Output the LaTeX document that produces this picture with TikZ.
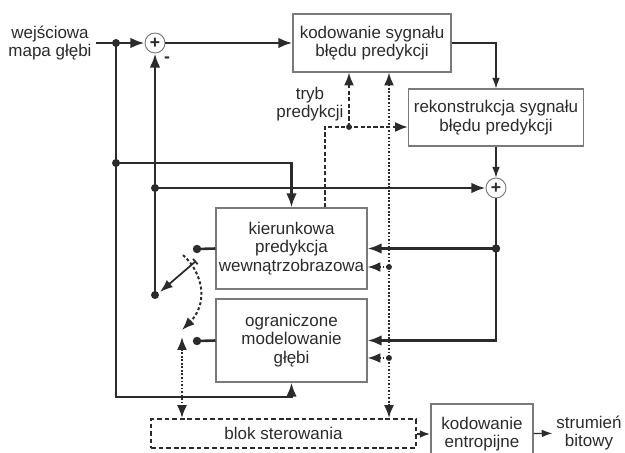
\documentclass[tikz,border=0pt]{standalone}
\usepackage{fontspec}
\setmainfont{Liberation Sans}
\usetikzlibrary{arrows.meta}
\definecolor{ink}{HTML}{2B2B2B}
\definecolor{frame}{HTML}{7A7A7A}
\tikzset{
  box/.style={draw=frame, line width=0.9pt, align=center, inner sep=0pt, text=ink},
  sum/.style={circle, draw=frame, line width=0.8pt, minimum size=0.6cm, inner sep=0pt, fill=white, font=\fontsize{15}{15}\selectfont\bfseries},
  wire/.style={draw=ink, line width=2.2pt},
  sig/.style={wire, -{Latex[length=12pt,width=9pt]}},
  fine/.style={draw=ink, line width=1pt, -{Latex[length=9pt,width=6.5pt]}},
  ctrl/.style={draw=ink, line width=1.7pt, dash pattern=on 1.5pt off 1.5pt},
  modeline/.style={draw=ink, line width=1.7pt, dash pattern=on 3.5pt off 2pt},
  tip/.style={-{Latex[length=11pt,width=8.5pt]}},
}
\begin{document}
\begin{tikzpicture}[x=0.03cm, y=-0.03cm, font=\fontsize{14.5}{16}\selectfont, text=ink]
\useasboundingbox (0,0) rectangle (625,452);

\node[align=center] (in) at (50,43) {wejściowa\\mapa głębi};
\node[sum] (s1) at (155,43) {+};
\node[font=\fontsize{15}{15}\selectfont\bfseries] (minus) at (167,60) {-};
\node[box, minimum width=4.74cm, minimum height=1.74cm] (kod) at (372,43) {kodowanie sygnału\\błędu predykcji};
\node[box, minimum width=5.25cm, minimum height=1.71cm] (rek) at (496,117.5) {rekonstrukcja sygnału\\błędu predykcji};
\node[sum] (s2) at (496,188) {+};
\node[align=center] (tryb) at (310,104) {tryb\\predykcji};
\node[box, minimum width=4.53cm, minimum height=2.43cm] (kier) at (291.5,248.5) {kierunkowa\\predykcja\\wewnątrzobrazowa};
\node[box, minimum width=4.53cm, minimum height=2.49cm] (ogr) at (291.5,340.5) {ograniczone\\modelowanie\\głębi};
\node[box, draw=ink, line width=1.6pt, dash pattern=on 4pt off 2.5pt, minimum width=7.95cm, minimum height=0.87cm] (blok) at (283.5,433.5) {blok sterowania};
\node[box, minimum width=3.06cm, minimum height=1.8cm] (entr) at (482,434) {kodowanie\\entropijne};
\node[align=center] (out) at (589,433) {strumień\\bitowy};

\coordinate (j1) at (116,43);
\coordinate (j2) at (116,163);
\coordinate (j3) at (155,188);
\coordinate (piv) at (155,295);
\coordinate (bend) at (116,397);
\coordinate (j4) at (s2 |- kier.east);
\coordinate (j5) at (389,267);
\coordinate (j6) at (389,358);
\coordinate (m0) at (325,127);
\coordinate (j7) at (349,127);
\coordinate (sw1) at (197,249);
\coordinate (sw2) at (197,341);
\coordinate (lev) at (196,261);
\coordinate (lev2) at (160,292);
\coordinate (arc1) at (183,255);
\coordinate (arc2) at (182,330);
\coordinate (bi) at (182,337);

\draw[sig] (in.east) -- (s1);
\draw[sig] (s1) -- (kod);
\draw[fine] (kod.east) -| (rek.north);
\draw[fine] (rek) -- (s2);
\draw[sig] (j3) -- (s2);
\draw[sig] (piv) -- (s1);
\draw[sig] (j1) -- (bend) -| (ogr.south);
\draw[sig] (j2) -| (kier.north);
\draw[sig] (s2) |- (ogr.east);
\draw[sig] (j4) -- (kier.east);
\draw[wire] (sw1) -- (kier.west);
\draw[wire] (sw2) -- (ogr.west);
\draw[draw=ink, line width=1.5pt, {Bar[width=6pt]}-{Latex[length=11pt,width=8pt]}] (lev) -- (lev2);
\draw[ctrl, dash pattern=on 2.5pt off 2pt, tip] (arc1) .. controls (205,275) and (207,305) .. (arc2);
\draw[ctrl, {Latex[length=11pt,width=8.5pt]}-{Latex[length=11pt,width=8.5pt]}] (bi) -- (bi |- blok.north);
\draw[ctrl, {Latex[length=11pt,width=8.5pt]}-{Latex[length=11pt,width=8.5pt]}] (j5 |- kod.south) -- (j5 |- blok.north);
\draw[ctrl, dash pattern=on 2.5pt off 1.5pt on 1pt off 1.5pt, tip] (j5) -- (kier.east |- j5);
\draw[ctrl, dash pattern=on 2.5pt off 1.5pt on 1pt off 1.5pt, tip] (j6) -- (ogr.east |- j6);
\draw[modeline, tip] (kier.north -| m0) -- (m0) -- (rek.west |- m0);
\draw[modeline, tip] (j7) -- (j7 |- kod.south);
\draw[modeline, -{Latex[length=9pt,width=6.5pt]}] (blok.east |- entr.west) -- (entr.west);
\draw[fine] (entr) -- (out);

\fill[ink] (j1) circle (3.4pt) (j2) circle (3.4pt) (j3) circle (3.4pt) (piv) circle (3.4pt)
  (j4) circle (3.6pt) (sw1) circle (3.6pt) (sw2) circle (3.6pt)
  (j5) circle (2.5pt) (j6) circle (2.5pt) (j7) circle (2.5pt);
\end{tikzpicture}
\end{document}
